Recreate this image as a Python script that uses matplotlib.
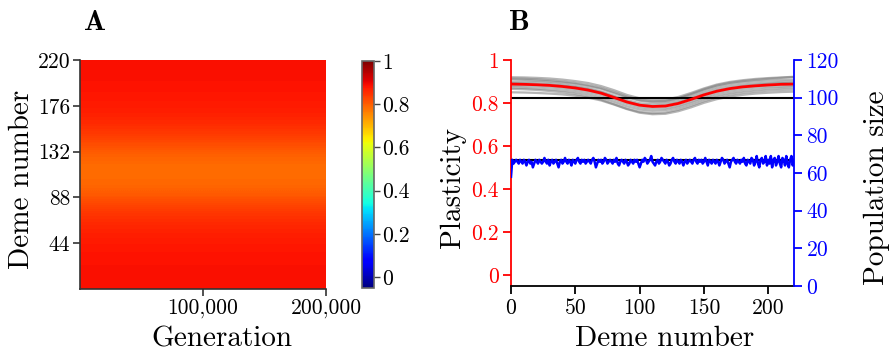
import numpy as np
import matplotlib
matplotlib.use("Agg")
import matplotlib.pyplot as plt
from matplotlib.colors import Normalize

plt.rcParams["font.family"] = ["cmr10", "DejaVu Serif"]
plt.rcParams["axes.unicode_minus"] = False
plt.rcParams["axes.formatter.use_mathtext"] = False

# --- data -------------------------------------------------------------------
demes = [0, 10, 20, 30, 40, 50, 60, 70, 80, 90, 100, 110, 120, 130, 140, 150,
         160, 170, 180, 190, 200, 210, 220]

# mean plasticity across demes (red line, also the heat-map profile)
mean_plasticity = [0.888, 0.887, 0.885, 0.882, 0.877, 0.870, 0.860, 0.846, 0.826,
                   0.805, 0.790, 0.784, 0.786, 0.798, 0.817, 0.838, 0.855, 0.867,
                   0.875, 0.880, 0.884, 0.887, 0.888]

# replicate runs (grey)
rep1 = [0.920, 0.919, 0.917, 0.914, 0.909, 0.902, 0.893, 0.879, 0.860, 0.838, 0.822, 0.815,
        0.816, 0.828, 0.847, 0.868, 0.886, 0.898, 0.906, 0.912, 0.916, 0.919, 0.922]
rep2 = [0.910, 0.908, 0.905, 0.901, 0.896, 0.889, 0.879, 0.866, 0.846, 0.826, 0.811, 0.804,
        0.806, 0.819, 0.838, 0.859, 0.876, 0.888, 0.896, 0.901, 0.905, 0.907, 0.909]
rep3 = [0.899, 0.899, 0.897, 0.893, 0.887, 0.879, 0.869, 0.854, 0.834, 0.814, 0.799, 0.794,
        0.797, 0.809, 0.828, 0.849, 0.866, 0.878, 0.886, 0.891, 0.895, 0.898, 0.900]
rep4 = [0.893, 0.891, 0.888, 0.885, 0.880, 0.874, 0.864, 0.850, 0.829, 0.807, 0.791, 0.785,
        0.788, 0.801, 0.820, 0.840, 0.857, 0.869, 0.878, 0.884, 0.889, 0.892, 0.894]
rep5 = [0.880, 0.879, 0.877, 0.873, 0.868, 0.861, 0.851, 0.837, 0.817, 0.796, 0.780, 0.774,
        0.776, 0.788, 0.807, 0.828, 0.846, 0.858, 0.866, 0.872, 0.876, 0.878, 0.880]
rep6 = [0.872, 0.870, 0.867, 0.863, 0.858, 0.851, 0.841, 0.826, 0.806, 0.785, 0.770, 0.764,
        0.767, 0.779, 0.798, 0.819, 0.836, 0.848, 0.856, 0.862, 0.867, 0.870, 0.872]
rep7 = [0.866, 0.864, 0.861, 0.856, 0.850, 0.842, 0.831, 0.816, 0.795, 0.774, 0.759, 0.753,
        0.756, 0.769, 0.788, 0.809, 0.827, 0.839, 0.847, 0.853, 0.858, 0.861, 0.863]
rep8 = [0.914, 0.913, 0.910, 0.906, 0.900, 0.893, 0.883, 0.870, 0.851, 0.830, 0.814, 0.808,
        0.810, 0.822, 0.842, 0.864, 0.882, 0.894, 0.902, 0.908, 0.913, 0.917, 0.921]
rep9 = [0.850, 0.849, 0.847, 0.844, 0.840, 0.834, 0.825, 0.812, 0.793, 0.772, 0.755, 0.748,
        0.750, 0.762, 0.780, 0.801, 0.818, 0.830, 0.838, 0.844, 0.848, 0.851, 0.853]
replicates = [rep1, rep2, rep3, rep4, rep5, rep6, rep7, rep8, rep9]

plasticity_ref = 0.825
popsize_ref = 67

# population size per deme (0..220)
popsize = [
    58, 67, 65, 66, 67, 66, 65, 67, 66, 65, 67, 66, 64, 66, 67, 65, 66, 63, 65, 67,
    66, 65, 67, 66, 65, 66, 68, 66, 65, 67, 64, 66, 67, 65, 66, 67, 65, 63, 66, 67,
    65, 66, 68, 66, 65, 67, 66, 64, 67, 66, 65, 67, 68, 66, 65, 67, 66, 67, 65, 66,
    67, 66, 65, 67, 68, 66, 63, 65, 67, 66, 67, 65, 66, 68, 67, 65, 66, 67, 66, 65,
    67, 66, 68, 65, 64, 66, 67, 66, 65, 67, 66, 64, 65, 67, 66, 65, 67, 66, 67, 65,
    63, 65, 67, 66, 68, 67, 65, 66, 67, 69, 66, 65, 64, 66, 67, 65, 66, 68, 67, 66,
    65, 67, 66, 64, 65, 67, 68, 66, 65, 67, 66, 65, 67, 66, 64, 66, 67, 65, 66, 67,
    66, 65, 67, 68, 66, 65, 67, 66, 67, 65, 66, 68, 66, 64, 67, 66, 65, 67, 66, 65,
    67, 66, 64, 66, 68, 67, 65, 66, 67, 65, 63, 66, 67, 68, 66, 65, 67, 66, 65, 67,
    66, 68, 65, 64, 67, 66, 65, 68, 67, 64, 66, 69, 65, 63, 67, 68, 65, 66, 69, 64,
    67, 65, 69, 63, 67, 68, 64, 66, 69, 65, 63, 68, 67, 64, 69, 65, 63, 67, 69, 64, 67,
]

gen_max = 200000
gen_ticks = [100000, 200000]
gen_ticklabels = ["100,000", "200,000"]
deme_ticks_a = [44, 88, 132, 176, 220]
cbar_ticks = [0, 0.2, 0.4, 0.6, 0.8, 1]
cbar_ticklabels = ["0", "0.2", "0.4", "0.6", "0.8", "1"]

# --- figure -----------------------------------------------------------------
fig = plt.figure(figsize=(8.92, 3.56), dpi=100)
W, H = 892, 356


def px_axes(x0, y0, x1, y1):
    return fig.add_axes([x0 / W, 1 - y1 / H, (x1 - x0) / W, (y1 - y0) / H])


TICK_FS = 15.5
LABEL_FS = 21

# panel A: heat map
axA = px_axes(80, 60, 326, 289)
norm = Normalize(vmin=-0.05, vmax=1.0)
im = axA.imshow(np.array(mean_plasticity)[:, None], cmap="jet", norm=norm,
                extent=(0, gen_max, demes[0], demes[-1]), origin="lower",
                aspect="auto", interpolation="bilinear")
axA.set_xlim(0, gen_max)
axA.set_ylim(0, 220)
axA.set_xticks(gen_ticks)
axA.set_xticklabels(gen_ticklabels)
axA.set_yticks(deme_ticks_a)
for s in ["top", "right"]:
    axA.spines[s].set_visible(False)
for s in ["left", "bottom"]:
    axA.spines[s].set_linewidth(1.2)
    axA.spines[s].set_color("#333333")
axA.tick_params(direction="out", length=5, width=1.2, labelsize=TICK_FS, pad=2,
                color="#333333")

cax = px_axes(362, 61, 374, 288)
cb = fig.colorbar(im, cax=cax, ticks=cbar_ticks)
cb.ax.set_yticklabels(cbar_ticklabels)
cb.outline.set_edgecolor("#666666")
cb.outline.set_linewidth(1.2)
cb.ax.tick_params(direction="out", length=4, width=1, labelsize=TICK_FS, pad=2,
                  color="#444444")

fig.text(22 / W, 1 - 179 / H, "Deme number", rotation=90, ha="center", va="center",
         fontsize=LABEL_FS)
fig.text(222 / W, 1 - 339 / H, "Generation", ha="center", va="center", fontsize=LABEL_FS)
fig.text(95 / W, 1 - 23 / H, "A", ha="center", va="center", fontsize=21,
         family="cmb10")

# panel B: plasticity + population size
axB = px_axes(511, 60, 794, 286)
for rep in replicates:
    axB.plot(demes, rep, color="#7a7a7a", alpha=0.55, linewidth=1.6)
axB.axhline(plasticity_ref, color="black", linewidth=1.5)
axB.plot(demes, mean_plasticity, color="red", linewidth=2.0)
axB.set_xlim(0, 220)
axB.set_ylim(-0.05, 1.0)
axB.set_xticks([0, 50, 100, 150, 200])
axB.set_yticks([0, 0.2, 0.4, 0.6, 0.8, 1])
axB.set_yticklabels(["0", "0.2", "0.4", "0.6", "0.8", "1"])
axB.spines["top"].set_visible(False)
axB.spines["right"].set_visible(False)
axB.spines["left"].set_color("red")
axB.spines["left"].set_linewidth(1.3)
axB.spines["bottom"].set_linewidth(1.3)
axB.tick_params(axis="y", colors="red", direction="out", length=6, width=1.3,
                labelsize=TICK_FS, pad=3)
axB.tick_params(axis="x", direction="out", length=6, width=1.3, labelsize=TICK_FS, pad=3)

ax2 = axB.twinx()
ax2.axhline(popsize_ref, color="black", linewidth=1.5)
ax2.plot(np.arange(len(popsize)), popsize, color="blue", linewidth=1.8)
ax2.set_ylim(0, 120)
ax2.set_yticks([0, 20, 40, 60, 80, 100, 120])
for s in ["top", "left", "bottom"]:
    ax2.spines[s].set_visible(False)
ax2.spines["right"].set_color("blue")
ax2.spines["right"].set_linewidth(1.3)
ax2.tick_params(axis="y", colors="blue", direction="out", length=6, width=1.3,
                labelsize=TICK_FS, pad=3)

fig.text(453 / W, 1 - 187 / H, "Plasticity", rotation=90, ha="center", va="center",
         fontsize=LABEL_FS)
fig.text(877 / W, 1 - 188 / H, "Population size", rotation=90, ha="center",
         va="center", fontsize=LABEL_FS)
fig.text(665 / W, 1 - 339 / H, "Deme number", ha="center", va="center",
         fontsize=LABEL_FS)
fig.text(519 / W, 1 - 23 / H, "B", ha="center", va="center", fontsize=21,
         family="cmb10")

fig.savefig("out.png", dpi=100)
